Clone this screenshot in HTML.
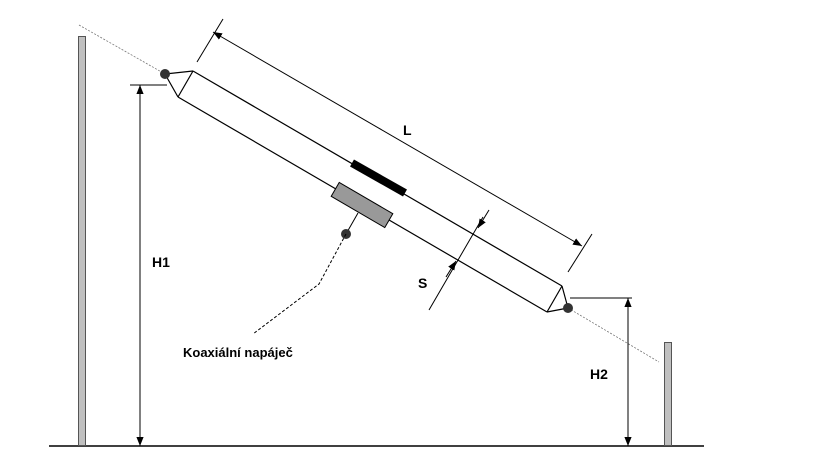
<!DOCTYPE html>
<html><head><meta charset="utf-8"><style>body{margin:0;background:#fff}svg{display:block}text{font-family:"Liberation Sans",sans-serif;font-weight:bold;fill:#000}</style></head><body>
<svg width="838" height="466" viewBox="0 0 838 466" xmlns="http://www.w3.org/2000/svg">
<defs><marker id="a" viewBox="0 0 10 10" refX="10" refY="5" markerWidth="9" markerHeight="9" markerUnits="userSpaceOnUse" orient="auto-start-reverse"><path d="M0,1 L10,5 L0,9z" fill="#000"/></marker></defs>
<!-- ground -->
<line x1="49" y1="446" x2="704" y2="446" stroke="#000" stroke-width="1.5"/>
<!-- poles -->
<rect x="78.5" y="36.5" width="7" height="409" fill="#c0c0c0" stroke="#555" stroke-width="1"/>
<rect x="664.5" y="342.5" width="7" height="103" fill="#c0c0c0" stroke="#555" stroke-width="1"/>
<!-- guy lines -->
<line x1="79" y1="25" x2="165" y2="74" stroke="#777" stroke-width="0.8" stroke-dasharray="2,1.5"/>
<line x1="568" y1="308" x2="659" y2="362" stroke="#777" stroke-width="0.8" stroke-dasharray="2,1.5"/>
<!-- tubes -->
<g stroke="#000" stroke-width="1.2" fill="none">
<line x1="193" y1="71" x2="562" y2="286"/>
<line x1="178" y1="97" x2="547" y2="312"/>
<line x1="193" y1="71" x2="178" y2="97"/>
<line x1="562" y1="286" x2="547" y2="312"/>
<polyline points="193,71 165,74 178,97"/>
<polyline points="562,286 568,308 547,312"/>
</g>
<circle cx="165" cy="74" r="5" fill="#333"/>
<circle cx="568" cy="308" r="5" fill="#333"/>
<!-- black bar -->
<line x1="352" y1="163" x2="405" y2="193" stroke="#000" stroke-width="8"/>
<!-- gray box -->
<g transform="translate(362,205) rotate(30.2)"><rect x="-31" y="-8" width="62" height="16" fill="#999" stroke="#000" stroke-width="1"/></g>
<line x1="358" y1="213" x2="346" y2="234" stroke="#000" stroke-width="1"/>
<circle cx="346" cy="234" r="5" fill="#333"/>
<polyline points="346,234 319,284 253,334" fill="none" stroke="#000" stroke-width="1" stroke-dasharray="3,2"/>
<!-- L dim -->
<g stroke="#000" stroke-width="1">
<line x1="197" y1="62" x2="223" y2="19"/>
<line x1="568" y1="272" x2="592" y2="234"/>
<line x1="213" y1="32" x2="582" y2="246" marker-start="url(#a)" marker-end="url(#a)"/>
<!-- S dim -->
<line x1="483" y1="217" x2="429" y2="310"/>
<line x1="489" y1="210" x2="478" y2="228" marker-end="url(#a)"/>
<line x1="446" y1="277" x2="456" y2="261" marker-end="url(#a)"/>
<!-- H1 -->
<line x1="130" y1="85" x2="167" y2="85"/>
<line x1="140" y1="85" x2="140" y2="446" marker-start="url(#a)" marker-end="url(#a)"/>
<!-- H2 -->
<line x1="570" y1="298" x2="632" y2="298"/>
<line x1="628" y1="298" x2="628" y2="446" marker-start="url(#a)" marker-end="url(#a)"/>
</g>
<text x="403" y="135" font-size="14">L</text>
<text x="152" y="267" font-size="14">H1</text>
<text x="418" y="288" font-size="14">S</text>
<text x="590" y="379" font-size="14">H2</text>
<text x="183" y="357" font-size="13">Koaxiální napáječ</text>
</svg>
</body></html>
